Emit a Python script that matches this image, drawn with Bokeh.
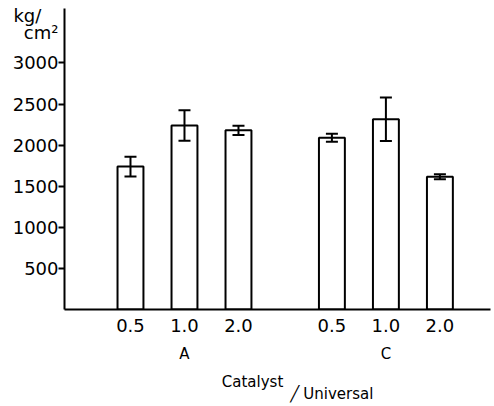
from bokeh.plotting import figure
from bokeh.models import (Range1d, FixedTicker, LinearAxis, ColumnDataSource,
                          Whisker, TeeHead)
from bokeh.embed import file_html
from bokeh.resources import INLINE

# ---- data ----
groups = ["A", "C"]
ratios = ["0.5", "1.0", "2.0"]
strength_A = [1740, 2240, 2180]
strength_C = [2090, 2315, 1615]
err_A = [120, 185, 55]
err_C = [50, 265, 30]
y_ticks = [500, 1000, 1500, 2000, 2500, 3000]
unit_top = "kg/"
unit_bottom = "cm²"
x_title_top = "Catalyst"
x_title_bottom = "Universal"

GROUP_GAP = 0.73
xs, vals, errs, labels = [], [], [], {}
group_centers = {}
for gi, (g, v, e) in enumerate(zip(groups, [strength_A, strength_C], [err_A, err_C])):
    base = gi * (len(ratios) + GROUP_GAP)
    for i, r in enumerate(ratios):
        x = base + i
        xs.append(x)
        vals.append(v[i])
        errs.append(e[i])
        labels[x] = r
    group_centers[base + 1] = g

src = ColumnDataSource(dict(x=xs, top=vals,
                            upper=[v + e for v, e in zip(vals, errs)],
                            lower=[v - e for v, e in zip(vals, errs)]))

FONT = "DejaVu Sans"
NB = "\u00a0"

p = figure(width=494, height=406, output_backend="svg", toolbar_location=None,
           x_range=Range1d(-1.222, 6.667), y_range=Range1d(0, 3663),
           min_border_left=64, min_border_right=4, min_border_top=8,
           min_border_bottom=97, x_axis_type=None, y_axis_type=None)
p.outline_line_color = None
p.grid.visible = False
p.background_fill_color = "white"
p.border_fill_color = "white"

p.vbar(x="x", top="top", width=0.48, bottom=0, source=src,
       fill_color="white", line_color="black", line_width=2)
p.add_layout(Whisker(base="x", upper="upper", lower="lower", source=src,
                     line_color="black", line_width=2, level="overlay",
                     upper_head=TeeHead(size=12, line_width=2, line_color="black"),
                     lower_head=TeeHead(size=12, line_width=2, line_color="black")))


def bare(ax):
    ax.major_tick_out = 0
    ax.major_tick_in = 0
    ax.minor_tick_out = 0
    ax.minor_tick_in = 0
    ax.major_label_text_color = "black"
    ax.major_label_text_font = FONT


# inner y axis: line + tick marks (as minor ticks, so no labels)
yi = LinearAxis(ticker=FixedTicker(ticks=[], minor_ticks=y_ticks))
bare(yi)
yi.axis_line_width = 2
yi.axis_line_color = "black"
yi.minor_tick_out = 6
yi.minor_tick_line_width = 2
yi.minor_tick_line_color = "black"
yi.major_label_standoff = 0
p.add_layout(yi, "left")

# outer y axis: labels only (incl. unit label at the top)
U1, U2 = 3578, 3371
ylab = {t: str(t) for t in y_ticks}
ylab[U1] = unit_top + NB * 3
ylab[U2] = unit_bottom
yo = LinearAxis(ticker=FixedTicker(ticks=y_ticks + [U1, U2]), major_label_overrides=ylab)
bare(yo)
yo.axis_line_color = None
yo.major_label_standoff = 0
yo.major_label_text_font_size = "18px"
p.add_layout(yo, "left")

# x axis with ratio labels
xa = LinearAxis(ticker=FixedTicker(ticks=xs), major_label_overrides=labels)
bare(xa)
xa.axis_line_width = 2
xa.axis_line_color = "black"
xa.major_label_standoff = 9
xa.major_label_text_font_size = "18px"
p.add_layout(xa, "below")

# group axis
ga = LinearAxis(ticker=FixedTicker(ticks=list(group_centers.keys())),
                major_label_overrides=group_centers)
bare(ga)
ga.axis_line_color = None
ga.major_label_standoff = 10
ga.major_label_text_font_size = "15px"
p.add_layout(ga, "below")

# x title, upper word
CAT_POS = 2.26
ca = LinearAxis(ticker=FixedTicker(ticks=[CAT_POS]), major_label_overrides={CAT_POS: x_title_top})
bare(ca)
ca.axis_line_color = None
ca.major_label_standoff = 7
ca.major_label_text_font_size = "15px"
p.add_layout(ca, "below")

# x title, slash + lower word
SL_POS, UN_POS = 3.04, 3.85
ua = LinearAxis(ticker=FixedTicker(ticks=[SL_POS, UN_POS]),
                major_label_overrides={SL_POS: "╱", UN_POS: x_title_bottom})
bare(ua)
ua.axis_line_color = None
ua.major_label_standoff = -9
ua.major_label_text_font_size = "15px"
p.add_layout(ua, "below")

open("out.html", "w").write(file_html(p, INLINE))
